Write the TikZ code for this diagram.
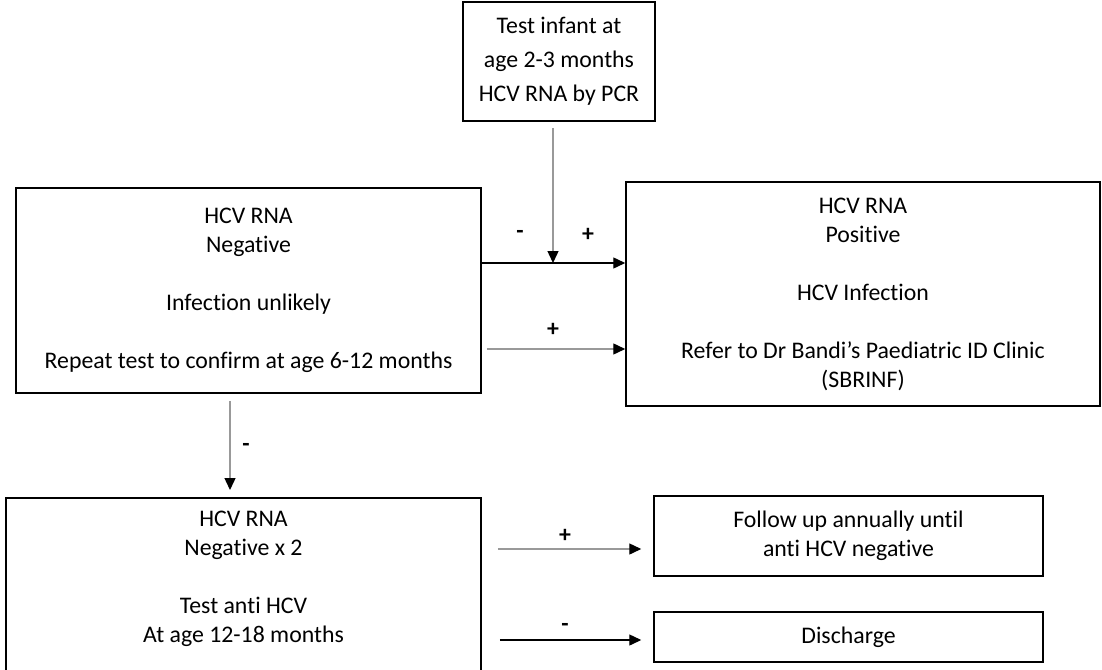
\documentclass[tikz,border=0pt]{standalone}
\usepackage{fontspec}
\setmainfont{Carlito}[Ligatures=NoCommon]
\usetikzlibrary{arrows.meta}
\begin{document}
\begin{tikzpicture}[x=1pt,y=-1pt,
  box/.style={draw,line width=1.5pt,align=center,inner sep=0pt,font=\fontsize{23.8}{29}\selectfont},
  sign/.style={font=\fontsize{23.8}{29}\selectfont\bfseries,inner sep=0pt},
  barrow/.style={line width=1.4pt,-{Triangle[length=12pt,width=11pt,color=black]}},
  garrow/.style={barrow,draw=black!40}]
\useasboundingbox[fill=white] (0,0) rectangle (1102,669);
\clip (0,0) rectangle (1102,669);
\node[box,minimum width=192pt,minimum height=119pt,font=\fontsize{23.8}{34}\selectfont] (test) at (559,61.5) {Test infant at\\age 2-3 months\\HCV RNA by PCR};
\node[box,minimum width=465pt,minimum height=205pt] (neg) at (248.5,290.5) {HCV RNA\\Negative\\[29pt]Infection unlikely\\[29pt]Repeat test to confirm at age 6-12 months};
\node[box,minimum width=474pt,minimum height=224pt] (pos) at (863,294) {HCV RNA\\Positive\\[29pt]HCV Infection\\[29pt]Refer to Dr Bandi’s Paediatric ID Clinic\\(SBRINF)};
\node[box,minimum width=475pt,minimum height=200pt,anchor=north] (neg2) at (243.5,497) {};
\node[align=center,inner sep=0pt,anchor=north,font=\fontsize{23.8}{29}\selectfont] (neg2txt) at (243.5,511) {HCV RNA\\Negative x 2\\[29pt]Test anti HCV\\At age 12-18 months};
\node[box,minimum width=389pt,minimum height=80pt] (follow) at (848.5,536) {Follow up annually until\\anti HCV negative};
\node[box,minimum width=389pt,minimum height=50pt] (disch) at (848.5,637) {Discharge};
\coordinate (j) at (553,263);
\coordinate (r2) at (0,349);
\coordinate (dx) at (230,0);
\coordinate (r3) at (0,549);
\coordinate (r4) at (0,640);
\draw[barrow] (neg.east |- j) -- (pos.west |- j);
\draw[garrow,shorten <=6pt] (test.south -| j) -- (j);
\draw[garrow,shorten <=5pt] (neg.east |- r2) -- (pos.west |- r2);
\draw[garrow,shorten <=7pt,shorten >=7pt] (neg.south -| dx) -- (neg2.north -| dx);
\draw[garrow,shorten <=16pt,shorten >=12pt] (neg2.east |- r3) -- (follow.west |- r3);
\draw[barrow,shorten <=18pt,shorten >=12pt] (neg2.east |- r4) -- (disch.west |- r4);
\node[sign] (m1) at (520,234) {-};
\node[sign] (p1) at (588,235) {+};
\node[sign] (p2) at (553,330) {+};
\node[sign] (m2) at (246,447) {-};
\node[sign] (p3) at (565,536) {+};
\node[sign] (m3) at (565,627) {-};
\end{tikzpicture}
\end{document}
